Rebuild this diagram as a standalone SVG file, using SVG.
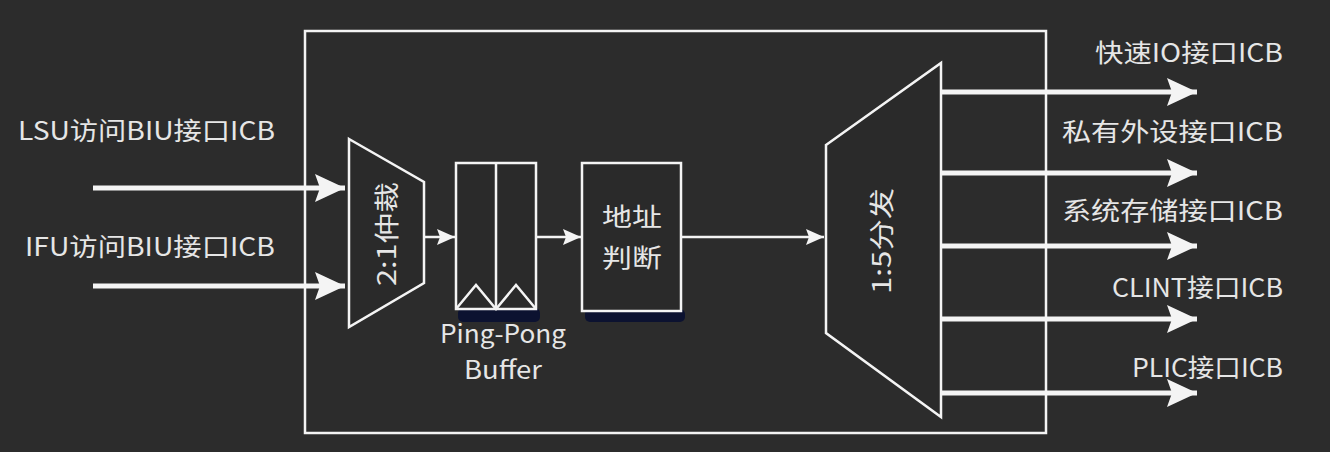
<svg xmlns="http://www.w3.org/2000/svg" width="1330" height="452" viewBox="0 0 1330 452">
<style>
  .ln{stroke:#f4f4f4;fill:none}
  .box{stroke:#f4f4f4;stroke-width:2.5;fill:#2a2a2a}
  .t{font-family:"Noto Sans CJK SC","Noto Sans",sans-serif;fill:#e6e6e6;font-size:25px}
  .shadow{fill:#0c1230}
</style>
<defs>
  <marker id="big" markerUnits="userSpaceOnUse" markerWidth="32" markerHeight="30" refX="30" refY="14" orient="auto">
    <path d="M0,0 L30,14 L0,28 L5,14 z" fill="#f4f4f4"/>
  </marker>
  <marker id="small" markerUnits="userSpaceOnUse" markerWidth="20" markerHeight="18" refX="18" refY="8" orient="auto">
    <path d="M0,0 L18,8 L0,16 L3,8 z" fill="#f4f4f4"/>
  </marker>
</defs>
<rect width="1330" height="452" fill="#2c2c2c"/>

<g id="outer">
  <rect x="305" y="31" width="741" height="402" style="fill:none;stroke:#f4f4f4;stroke-width:2.5"/>
</g>

<g id="labels-in">
  <text class="t" x="18" y="140" textLength="257" lengthAdjust="spacingAndGlyphs">LSU访问BIU接口ICB</text>
  <text class="t" x="25" y="256" textLength="250" lengthAdjust="spacingAndGlyphs">IFU访问BIU接口ICB</text>
</g>

<g id="arbiter">
  <polygon points="349,139 424,182 424,283 349,327" class="box"/>
  <text class="t" x="0" y="0" text-anchor="middle" font-size="26" textLength="104" lengthAdjust="spacingAndGlyphs" transform="translate(396,234) rotate(-90)">2:1仲裁</text>
</g>

<g id="pingpong">
  <rect x="458" y="308" width="82" height="14" rx="5" class="shadow"/>
  <rect x="456" y="163" width="80" height="146" class="box"/>
  <line x1="496" y1="163" x2="496" y2="309" class="ln" stroke-width="2.5"/>
  <polyline points="456,309 476,285 496,309 516,285 536,309" class="ln" stroke-width="2.5"/>
  <text class="t" x="503" y="343" text-anchor="middle" font-size="24" textLength="126" lengthAdjust="spacingAndGlyphs">Ping-Pong</text>
  <text class="t" x="503" y="379" text-anchor="middle" font-size="24" textLength="78" lengthAdjust="spacingAndGlyphs">Buffer</text>
</g>

<g id="addr">
  <rect x="585" y="309" width="100" height="13" rx="5" class="shadow"/>
  <rect x="582" y="163" width="99" height="148" class="box"/>
  <text class="t" x="632" y="226" text-anchor="middle" font-size="26" textLength="60" lengthAdjust="spacingAndGlyphs">地址</text>
  <text class="t" x="632" y="267" text-anchor="middle" font-size="26" textLength="60" lengthAdjust="spacingAndGlyphs">判断</text>
</g>

<g id="dispatcher">
  <polygon points="826,145 941,63 941,417 826,333" class="box"/>
  <text class="t" x="0" y="0" text-anchor="middle" font-size="26" textLength="106" lengthAdjust="spacingAndGlyphs" transform="translate(891,241) rotate(-90)">1:5分发</text>
</g>

<g id="labels-out" text-anchor="end">
  <text class="t" x="1283" y="62" textLength="188" lengthAdjust="spacingAndGlyphs">快速IO接口ICB</text>
  <text class="t" x="1283" y="141" textLength="221" lengthAdjust="spacingAndGlyphs">私有外设接口ICB</text>
  <text class="t" x="1283" y="220" textLength="221" lengthAdjust="spacingAndGlyphs">系统存储接口ICB</text>
  <text class="t" x="1283" y="297" textLength="171" lengthAdjust="spacingAndGlyphs">CLINT接口ICB</text>
  <text class="t" x="1283" y="377" textLength="151" lengthAdjust="spacingAndGlyphs">PLIC接口ICB</text>
</g>

<g id="connectors">
  <line x1="93" y1="188" x2="345" y2="188" class="ln" stroke-width="5" marker-end="url(#big)"/>
  <line x1="93" y1="286" x2="345" y2="286" class="ln" stroke-width="5" marker-end="url(#big)"/>
  <line x1="424" y1="237" x2="455" y2="237" class="ln" stroke-width="2.5" marker-end="url(#small)"/>
  <line x1="536" y1="237" x2="581" y2="237" class="ln" stroke-width="2.5" marker-end="url(#small)"/>
  <line x1="681" y1="237" x2="824" y2="237" class="ln" stroke-width="2.5" marker-end="url(#small)"/>
  <line x1="941" y1="92" x2="1197" y2="92" class="ln" stroke-width="5" marker-end="url(#big)"/>
  <line x1="941" y1="173" x2="1197" y2="173" class="ln" stroke-width="5" marker-end="url(#big)"/>
  <line x1="941" y1="246" x2="1197" y2="246" class="ln" stroke-width="5" marker-end="url(#big)"/>
  <line x1="941" y1="319" x2="1197" y2="319" class="ln" stroke-width="5" marker-end="url(#big)"/>
  <line x1="941" y1="393" x2="1197" y2="393" class="ln" stroke-width="5" marker-end="url(#big)"/>
</g>
</svg>
